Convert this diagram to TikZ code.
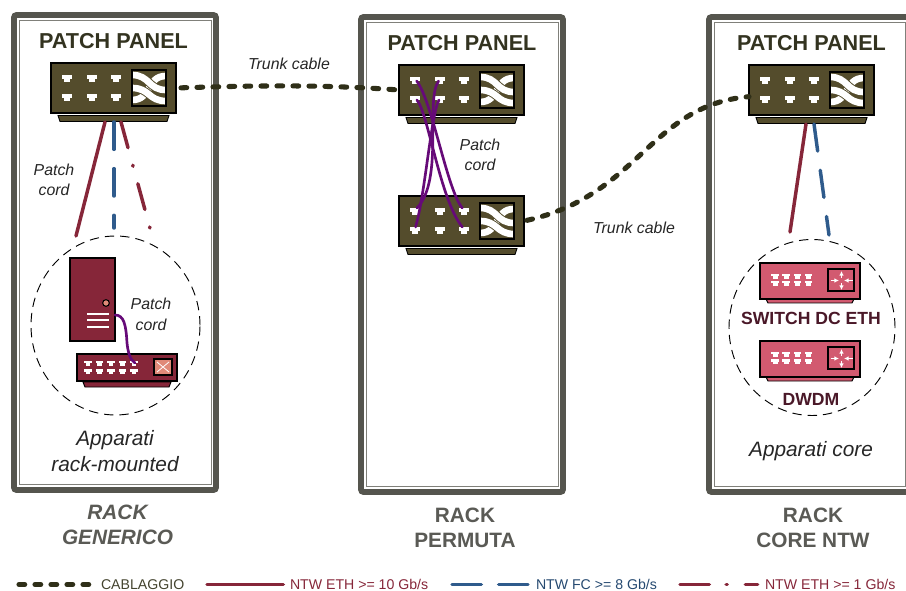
\documentclass[tikz,border=0pt]{standalone}
\usepackage{fontspec}
\setmainfont{Liberation Sans}
\usetikzlibrary{arrows.meta,shapes.geometric}
\definecolor{rackgray}{HTML}{55554E}
\definecolor{olive}{HTML}{544C2C}
\definecolor{wine}{HTML}{862639}
\definecolor{bluecab}{HTML}{2F5B8C}
\definecolor{purplecab}{HTML}{660A78}
\definecolor{trunkcol}{HTML}{2F2F18}
\definecolor{rosefill}{HTML}{D25A70}
\definecolor{salmon}{HTML}{E08A78}
\definecolor{darkwine}{HTML}{4A1828}
\definecolor{labelgray}{HTML}{5A5A55}
\definecolor{titlecol}{HTML}{333320}
\tikzset{
  rackouter/.style={draw=rackgray,line width=4.4pt,rounded corners=2pt},
  rackinner/.style={draw=rackgray!75,line width=0.8pt},
  panelbody/.style={draw=black,line width=0.8pt,fill=olive,minimum width=93.75pt,minimum height=37.5pt,inner sep=0pt,outer sep=0pt},
  porttag/.style={fill=white,inner sep=0pt,outer sep=0pt,minimum width=7.2pt,minimum height=3pt},
  ribbon/.style={draw=white,line width=5pt,line cap=butt},
  ribbonedge/.style={draw=olive,line width=6.4pt,line cap=butt},
  solidcab/.style={draw=wine,line width=2.6pt,line cap=round},
  bluedash/.style={draw=bluecab,line width=2.6pt,line cap=round,dash pattern=on 20.5pt off 14.5pt},
  wdashdot/.style={draw=wine,line width=2.6pt,line cap=round,dash pattern=on 20pt off 13.6pt on 0.8pt off 13.6pt},
  trunkcab/.style={draw=trunkcol,line width=3.8pt,line cap=round,dash pattern=on 4.3pt off 7.7pt},
  patchcab/.style={draw=purplecab,line width=2pt,line cap=round},
  zone/.style={draw=black,line width=0.7pt,dash pattern=on 7pt off 4.5pt},
  ttl/.style={font=\bfseries\fontsize{16.2}{18}\selectfont,text=titlecol,inner sep=0pt},
  itl/.style={font=\itshape\fontsize{11.9}{15.5}\selectfont,text=black!85,align=center,inner sep=0pt},
  itlbig/.style={font=\itshape\fontsize{15.6}{20}\selectfont,text=black!85,align=center,inner sep=0pt},
  racklbl/.style={font=\bfseries\fontsize{15.6}{18.6}\selectfont,text=labelgray,align=center,inner sep=0pt},
  devlbl/.style={font=\bfseries\fontsize{13.2}{16}\selectfont,text=darkwine,inner sep=0pt},
  leg/.style={font=\fontsize{10.6}{12}\selectfont,anchor=west,inner sep=0pt,outer sep=0pt},
}
% port: #1 name, #2 x, #3 y
\newcommand{\portmark}[3]{%
  \node[porttag] (#1) at (#2,#3) {};
  \fill[white] (#2-3.4,#3) rectangle (#2+3.4,#3+5.2);
}
\newcommand{\panelunit}[3]{% name, dx, dy
  \begin{scope}[shift={(#2,#3)}]
    \draw[black,line width=0.7pt,fill=olive] (58,115.5) -- (169,115.5) -- (167,121.5) -- (60,121.5) -- cycle;
    \node[panelbody] (#1) at (113.5,88) {};
    \portmark{#1a}{67}{77}
    \portmark{#1b}{92}{77}
    \portmark{#1c}{116}{77}
    \portmark{#1d}{67}{96}
    \portmark{#1e}{92}{96}
    \portmark{#1f}{116}{96}
    \fill[olive] (132,70) rectangle (166,106);
    \begin{scope}
      \clip (132,70) rectangle (166,106);
      \draw[ribbon] (132,100) .. controls (152,100) and (146,76) .. (166,76);
      \draw[ribbonedge] (132,88) .. controls (150,88) and (148,101) .. (166,101);
      \draw[ribbon] (132,88) .. controls (150,88) and (148,101) .. (166,101);
      \draw[ribbonedge] (132,75) .. controls (150,75) and (148,90) .. (166,90);
      \draw[ribbon] (132,75) .. controls (150,75) and (148,90) .. (166,90);
    \end{scope}
    \draw[black,line width=0.9pt] (132,70) rectangle (166,106);
  \end{scope}
}
\newcommand{\coredev}[2]{% name, y-top
  \begin{scope}[shift={(0,#2)}]
    \draw[black,line width=0.7pt,fill=rosefill] (766,36) -- (854,36) -- (852,40) -- (768,40) -- cycle;
    \node[draw=black,line width=0.9pt,fill=rosefill,minimum width=75pt,minimum height=27pt,inner sep=0pt,outer sep=0pt] (#1) at (810,18) {};
    \foreach \xx in {775,786,797.5,808.5}{
      \fill[white] (\xx-3.8,11) rectangle (\xx+3.8,13.5);
      \fill[white] (\xx-2.5,13.5) rectangle (\xx+2.5,16);
      \fill[white] (\xx-3.8,18) rectangle (\xx+3.8,20.5);
      \fill[white] (\xx-2.5,20.5) rectangle (\xx+2.5,23);
    }
    \draw[black,line width=0.9pt,fill=rosefill] (828,6) rectangle (854,28);
    \draw[white,line width=0.7pt,-{Latex[length=3.5pt,width=3.5pt]}] (841.5,15) -- (841.5,8);
    \draw[white,line width=0.7pt,-{Latex[length=3.5pt,width=3.5pt]}] (841.5,20) -- (841.5,27);
    \draw[white,line width=0.7pt,-{Latex[length=3.5pt,width=3.5pt]}] (830.5,17.5) -- (839,17.5);
    \draw[white,line width=0.7pt,-{Latex[length=3.5pt,width=3.5pt]}] (852.5,17.5) -- (844,17.5);
  \end{scope}
}
\begin{document}
\begin{tikzpicture}[x=0.75pt,y=-0.75pt]
\useasboundingbox (0,0) rectangle (906,591);
\fill[white] (0,0) rectangle (906,591);
\begin{scope}
  \clip (0,0) rectangle (906,591);
  \draw[rackouter] (14,15) rectangle (216,490);
  \draw[rackinner] (19.5,20.5) rectangle (211.5,484.5);
  \draw[rackouter] (361,17) rectangle (563,492);
  \draw[rackinner] (366.5,22.5) rectangle (558.5,486.5);
  \draw[rackouter] (709,17) rectangle (911,492);
  \draw[rackinner] (714.5,22.5) rectangle (905.5,486.5);
\end{scope}

\node[ttl] (t1) at (113.5,41) {PATCH PANEL};
\node[ttl] (t2) at (462,43) {PATCH PANEL};
\node[ttl] (t3) at (811.5,43) {PATCH PANEL};

\panelunit{pa}{0}{0}
\panelunit{pb}{348}{2}
\panelunit{pc}{348}{133}
\panelunit{pd}{698}{2}

% rack 1 equipment
\node[zone,ellipse,minimum width=126.75pt,minimum height=134.25pt,inner sep=0pt] (za) at (115.5,325.5) {};
\node[draw=black,line width=0.9pt,fill=wine,minimum width=33.75pt,minimum height=62.25pt,inner sep=0pt,outer sep=0pt] (srv) at (92.5,299.5) {};
\node[circle,draw=black,line width=0.8pt,fill=salmon,minimum size=5pt,inner sep=0pt] (srvbtn) at (106,303) {};
\foreach \yy in {314,320.5,327}{\fill[white] (87,\yy-1) rectangle (109,\yy+1);}
\draw[black,line width=0.7pt,fill=wine] (83,382) -- (171,382) -- (169,387) -- (85,387) -- cycle;
\node[draw=black,line width=0.9pt,fill=wine,minimum width=75pt,minimum height=20.25pt,inner sep=0pt,outer sep=0pt] (swa) at (127,367.5) {};
\foreach \xx/\nn in {88/a,99.5/b,111/c,122.5/d,134/e}{
  \fill[white] (\xx-3.6,360.5) rectangle (\xx+3.6,363);
  \fill[white] (\xx-2.4,363) rectangle (\xx+2.4,365.5);
  \fill[white] (\xx-3.6,369) rectangle (\xx+3.6,371.5);
  \fill[white] (\xx-2.4,371.5) rectangle (\xx+2.4,374);
}
\coordinate (swport) at (135,363);
\draw[black,line width=0.9pt,fill=salmon] (154,359) rectangle (172,375);
\draw[white,line width=0.6pt] (157,362) .. controls (163,367) .. (169,372) (157,372) .. controls (163,367) .. (169,362);

% rack 3 equipment
\node[zone,ellipse,minimum width=124.5pt,minimum height=132pt,inner sep=0pt] (zb) at (812,327.5) {};
\coredev{sw}{263}
\coredev{dw}{341}
\node[devlbl] (swl) at (811,318.5) {SWITCH DC ETH};
\node[devlbl] (dwl) at (811,399) {DWDM};

% rack 1 cables
\coordinate (ca) at (76,236);
\coordinate (cb) at (114,228);
\coordinate (cc) at (151,232);
\coordinate (sa) at (105,122);
\coordinate (sb) at (114,122);
\coordinate (sc) at (121,122);
\draw[solidcab] (sa) -- (ca);
\draw[bluedash] (sb) -- (cb);
\draw[wdashdot] (sc) -- (cc);
% rack 3 cables
\coordinate (da) at (806,124);
\coordinate (db) at (814,124);
\coordinate (ea) at (790,232);
\coordinate (eb) at (829,235);
\draw[solidcab] (da) -- (ea);
\draw[bluedash] (db) -- (eb);

% trunks
\draw[trunkcab,shorten <=3.75pt] (pa.east) .. controls (270,85) and (330,85) .. (pb.west);
\draw[trunkcab,shorten <=2.25pt] (pc.east) .. controls (640,195) and (650,105) .. ([yshift=-5pt]pd.west);

% patch cords
\draw[patchcab] (pba) .. controls (432,100) and (447,190) .. (pcc);
\draw[patchcab] (pbd) .. controls (428,112) and (440,200) .. (pcf);
\draw[patchcab] (pbb) .. controls (425,100) and (444,180) .. (pca);
\draw[patchcab] (pbe) .. controls (431,115) and (425,195) .. (pcd);
\draw[patchcab] (srv.east |- 0,315) .. controls (124,315) and (126,325) .. (127,343) .. controls (128,352) and (130,360) .. (swport);

% labels
\node[itl] (l1) at (289,64) {Trunk cable};
\node[itl] (l2) at (54,180) {Patch\\cord};
\node[itl] (l3) at (480,155) {Patch\\cord};
\node[itl] (l4) at (634,228) {Trunk cable};
\node[itl] (l5) at (151,314) {Patch\\cord};
\node[itlbig] (l6) at (115,451) {Apparati\\rack-mounted};
\node[itlbig] (l7) at (811,451) {Apparati core};
\node[racklbl,font=\bfseries\itshape\fontsize{15.6}{18.6}\selectfont] (r1) at (117.5,525) {RACK\\GENERICO};
\node[racklbl] (r2) at (465,527.5) {RACK\\PERMUTA};
\node[racklbl] (r3) at (813,527.5) {RACK\\CORE NTW};

% legend
\node[leg,text=trunkcol!90] (ta) at (101,584.5) {CABLAGGIO};
\node[leg,text=wine] (tb) at (290,584.5) {NTW ETH >= 10 Gb/s};
\node[leg,text=bluecab!80!black] (tc) at (536,584.5) {NTW FC >= 8 Gb/s};
\node[leg,text=wine] (td) at (765,584.5) {NTW ETH >= 1 Gb/s};
\coordinate (la) at (19,584.5);
\coordinate (lb) at (207,584.5);
\coordinate (lc) at (452,584.5);
\coordinate (ld) at (680,584.5);
\draw[trunkcab] (la) -- ([xshift=-7.5pt]ta.west);
\draw[solidcab] (lb) -- ([xshift=-5pt]tb.west);
\draw[bluedash,dash pattern=on 22pt off 13pt] (lc) -- ([xshift=-5.5pt]tc.west);
\draw[wdashdot,dash pattern=on 22pt off 12.6pt on 0.8pt off 13.6pt] (ld) -- ([xshift=-5.5pt]td.west);
\end{tikzpicture}
\end{document}
